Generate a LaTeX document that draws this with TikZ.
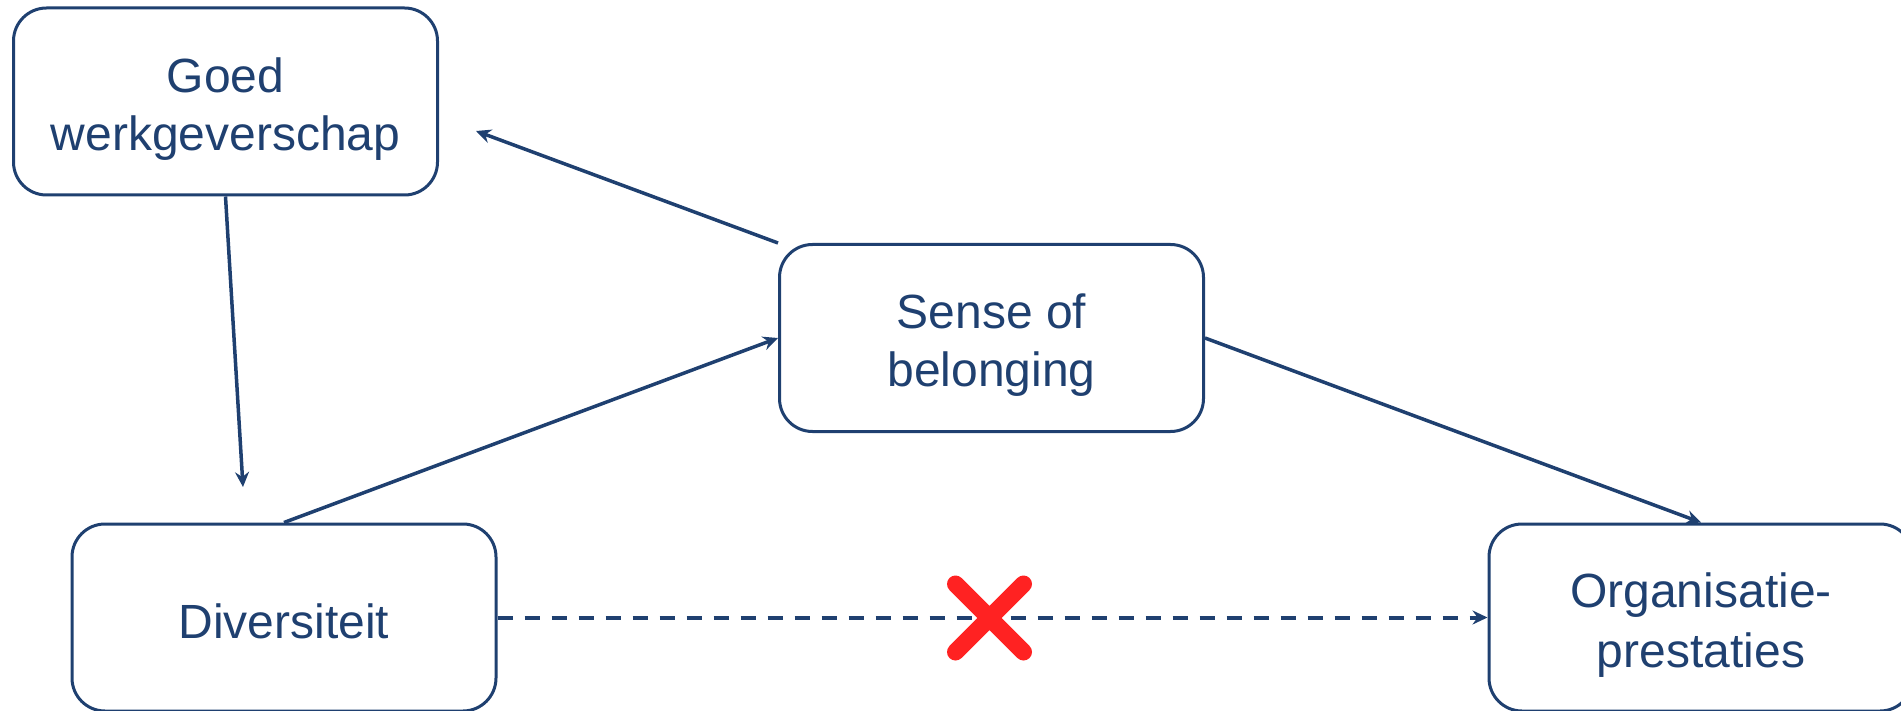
\documentclass[tikz,border=0pt]{standalone}
\usepackage{fontspec}
\setmainfont{Liberation Sans}
\usetikzlibrary{arrows.meta}
\definecolor{navy}{RGB}{31,64,112}
\definecolor{crossred}{RGB}{255,34,34}
% fixed line height so every text block sits evenly in its box
\newcommand{\bs}{\rule[-7pt]{0pt}{56pt}}

\begin{document}
\begin{tikzpicture}[x=1pt,y=-1pt,
  box/.style={draw=navy, line width=3pt, rounded corners=33pt,
    minimum width=424pt, minimum height=187pt, align=center,
    text=navy, font=\fontsize{48}{58}\selectfont, inner sep=0pt},
  link/.style={draw=navy, line width=3.5pt,
    -{Stealth[length=15pt,width=14pt,inset=5pt]}},
  nolink/.style={link, line width=4pt, dash pattern=on 15pt off 12pt},
  xmark/.style={draw=crossred, line width=17pt, line cap=round},
]
\path[use as bounding box] (0,0) rectangle (1901,711);
\begin{scope}
\clip (0,0) rectangle (1901,711);

% the four concepts
\node[box] (goed)  at (225.5,101.5) {\bs Goed\\werkgeverschap\bs};
\node[box] (sense) at (991.5,338)   {\bs Sense of\\belonging\bs};
\node[box] (div)   at (284,617.5)   {\bs Diversiteit};
\node[box] (org)   at (1701,617.5)  {\bs Organisatie-\\prestaties\bs};

% free ends of the two short arrows
\coordinate (gdEnd) at (243,487);
\coordinate (sgEnd) at (476,131);

% relations
\draw[link] (goed.south) -- (gdEnd);
\draw[link] (div.north) -- (sense.west);
\draw[link] (sense.north west) -- (sgEnd);
\draw[link] (sense.east) -- (org.north);
\draw[nolink] (div.east) -- (org.west);

% no direct effect
\coordinate (cross) at (989.5,618);
\draw[xmark] (cross) ++(-34,-34) -- ++(68,68)
             (cross) ++(34,-34) -- ++(-68,68);
\end{scope}
\end{tikzpicture}
\end{document}
